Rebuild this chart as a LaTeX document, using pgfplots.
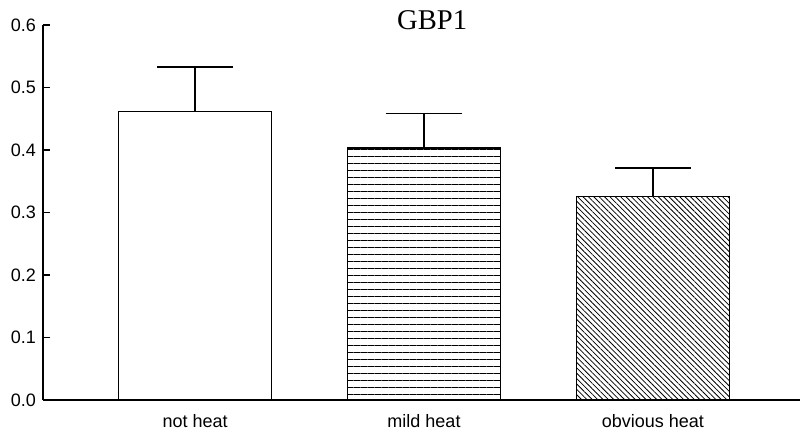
\documentclass[border=0pt]{standalone}
\usepackage{fontspec}
\setmainfont{Liberation Sans}
\newfontfamily\titlefont{Liberation Serif}
\usepackage{pgfplots}
\pgfplotsset{compat=1.18}
\usetikzlibrary{patterns.meta}

\pgfplotsset{
  errup/.style={
    error bars/y dir=plus,
    error bars/y explicit,
    error bars/error bar style={line width=0.7pt, black},
    error bars/error mark options={rotate=90, line width=0.7pt, mark size=19pt, black},
  },
}

\begin{document}
\begin{tikzpicture}
\begin{axis}[
  at={(0,0)}, anchor=south west,
  scale only axis, width=378.5pt, height=187.5pt,
  xmin=-0.664, xmax=2.642, ymin=0, ymax=0.6,
  clip=false,
  axis lines*=left,
  axis line style={line width=0.8pt},
  ybar, bar width=76.5pt, bar shift=0pt,
  xtick={0,1,2},
  xticklabels={not heat, mild heat, obvious heat},
  x tick style={draw=none},
  xticklabel style={font=\fontsize{9}{10}\selectfont, yshift=-3.5pt},
  ytick={0,0.1,0.2,0.3,0.4,0.5,0.6},
  yticklabel style={font=\fontsize{9}{10}\selectfont,
    /pgf/number format/.cd, fixed, fixed zerofill, precision=1,
    assume math mode=true},
  y tick style={line width=0.8pt, black},
  tick align=inside, major tick length=3.5pt,
]
\addplot[draw=black, line width=0.7pt, fill=white, errup]
  coordinates {(0,0.462) +- (0,0.071)};
\addplot[draw=black, line width=0.7pt, errup,
  pattern={Lines[angle=0, distance=3.5pt, line width=0.45pt]}, pattern color=black]
  coordinates {(1,0.403) +- (0,0.055)};
\addplot[draw=black, line width=0.7pt, errup,
  pattern={Lines[angle=-45, distance=1.9pt, line width=0.4pt]}, pattern color=black]
  coordinates {(2,0.326) +- (0,0.045)};
\node[anchor=base, font=\titlefont\fontsize{14.3}{16}\selectfont]
  at (rel axis cs:0.514,0.987) {GBP1};
\end{axis}
\pgfresetboundingbox
\path (-21.5pt,-18pt) rectangle (378.5pt,200pt);
\end{tikzpicture}
\end{document}
